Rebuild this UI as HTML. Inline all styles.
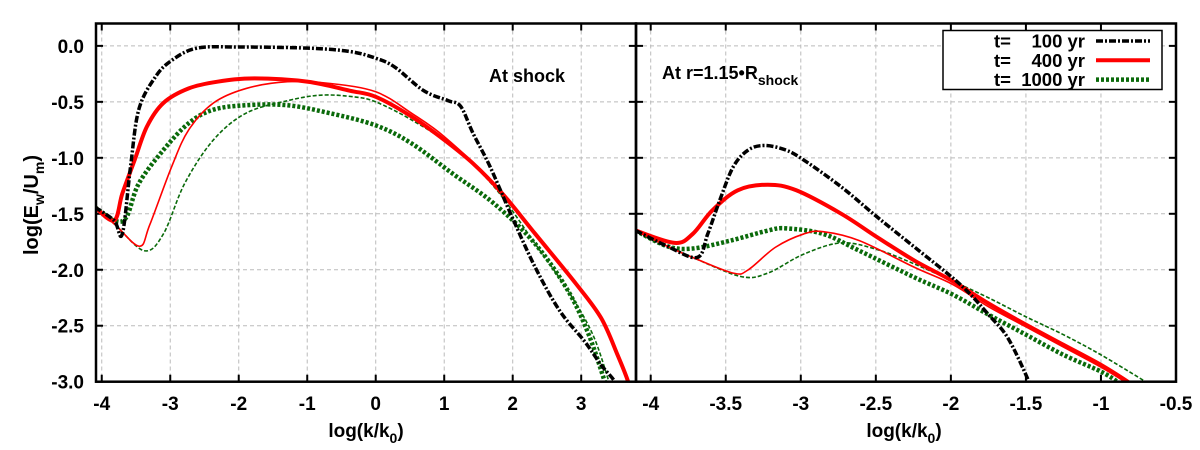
<!DOCTYPE html>
<html><head><meta charset="utf-8"><style>
body{margin:0;background:#fff;}
svg{display:block;font-family:"Liberation Sans",sans-serif;font-weight:bold;}
</style></head><body>
<svg id="chart" width="1200" height="450"></svg>
<script>
// ---- data ----
const leftXTicks=[-4,-3,-2,-1,0,1,2,3];
const rightXTicks=[-4,-3.5,-3,-2.5,-2,-1.5,-1,-0.5];
const yTicks=[0,-0.5,-1,-1.5,-2,-2.5,-3];
const yTickLabels=["0.0","-0.5","-1.0","-1.5","-2.0","-2.5","-3.0"];
// left panel (At shock)
const L_black_x=[-4.1,-3.82,-3.7,-3.58,-3.46,-3.22,-2.98,-2.61,-2.0,-0.99,-0.38,0,0.28,0.7,1.06,1.24,1.42,1.67,1.97,2.33,2.69,3.05,3.29,3.5,3.6];
const L_black_y=[-1.44,-1.56,-1.68,-1.08,-0.57,-0.28,-0.13,-0.02,-0.01,-0.02,-0.05,-0.11,-0.19,-0.40,-0.49,-0.54,-0.78,-1.08,-1.50,-1.98,-2.37,-2.64,-2.85,-3.01,-3.2];
const L_redT_x=[-4.1,-3.82,-3.7,-3.52,-3.34,-3.1,-2.73,-2.31,-1.77,-0.99,-0.38,0,0.52,1.0,1.42,1.85,2.33,2.93,3.29,3.53,3.69,3.75];
const L_redT_y=[-1.44,-1.56,-1.32,-1.02,-0.72,-0.51,-0.38,-0.32,-0.29,-0.32,-0.40,-0.455,-0.63,-0.84,-1.05,-1.32,-1.68,-2.13,-2.43,-2.76,-3.01,-3.2];
const L_redt_x=[-4.1,-3.8,-3.45,-3.3,-2.98,-2.73,-2.37,-1.89,-1.29,-0.68,0,0.52,1.0,1.73,2.33,2.93,3.29,3.53,3.69,3.75];
const L_redt_y=[-1.44,-1.6,-1.79,-1.6,-1.08,-0.75,-0.51,-0.38,-0.32,-0.335,-0.41,-0.60,-0.81,-1.23,-1.68,-2.13,-2.43,-2.76,-3.01,-3.2];
const L_grnT_x=[-4.1,-3.82,-3.64,-3.46,-3.1,-2.73,-2.37,-1.89,-1.29,-0.68,0,0.52,1.12,1.73,2.33,2.81,3.11,3.35,3.45];
const L_grnT_y=[-1.44,-1.56,-1.53,-1.23,-0.93,-0.69,-0.57,-0.53,-0.53,-0.60,-0.71,-0.87,-1.14,-1.41,-1.77,-2.19,-2.58,-3.01,-3.2];
const L_grnt_x=[-4.1,-3.8,-3.38,-3.1,-2.79,-2.37,-1.89,-1.29,-0.8,-0.32,0,0.52,1.12,1.73,2.33,2.81,3.17,3.41,3.5];
const L_grnt_y=[-1.44,-1.6,-1.83,-1.68,-1.23,-0.84,-0.60,-0.49,-0.44,-0.455,-0.5,-0.66,-0.90,-1.26,-1.77,-2.19,-2.58,-3.01,-3.2];
// right panel (At r=1.15 R_shock)
const R_black_x=[-4.1,-3.89,-3.69,-3.62,-3.54,-3.45,-3.35,-3.24,-3.1,-2.98,-2.73,-2.49,-2.24,-1.99,-1.87,-1.75,-1.62,-1.48,-1.43];
const R_black_y=[-1.65,-1.79,-1.89,-1.68,-1.38,-1.08,-0.93,-0.89,-0.93,-1.02,-1.26,-1.53,-1.80,-2.07,-2.22,-2.40,-2.61,-3.0,-3.2];
const R_redT_x=[-4.1,-3.84,-3.72,-3.59,-3.42,-3.22,-3.03,-2.73,-2.49,-2.24,-1.99,-1.75,-1.5,-1.25,-1.0,-0.81,-0.75];
const R_redT_y=[-1.65,-1.76,-1.68,-1.47,-1.29,-1.24,-1.29,-1.50,-1.71,-1.92,-2.10,-2.30,-2.49,-2.67,-2.85,-3.01,-3.07];
const R_redt_x=[-4.1,-3.89,-3.72,-3.45,-3.35,-3.17,-2.98,-2.85,-2.61,-2.24,-1.99,-1.75,-1.5,-1.25,-1.0,-0.83,-0.77];
const R_redt_y=[-1.65,-1.79,-1.89,-2.03,-2.0,-1.80,-1.68,-1.66,-1.74,-1.98,-2.13,-2.33,-2.51,-2.69,-2.87,-3.01,-3.07];
const R_grnT_x=[-4.1,-3.89,-3.72,-3.47,-3.22,-3.1,-2.85,-2.61,-2.24,-1.99,-1.75,-1.5,-1.25,-1.0,-0.88,-0.82];
const R_grnT_y=[-1.65,-1.79,-1.81,-1.74,-1.65,-1.63,-1.68,-1.83,-2.07,-2.22,-2.40,-2.58,-2.76,-2.91,-3.01,-3.07];
const R_grnt_x=[-4.1,-3.89,-3.72,-3.4,-3.22,-2.98,-2.73,-2.49,-2.24,-1.99,-1.75,-1.5,-1.25,-1.0,-0.69,-0.63];
const R_grnt_y=[-1.65,-1.79,-1.89,-2.06,-2.03,-1.86,-1.76,-1.82,-1.95,-2.10,-2.25,-2.42,-2.58,-2.76,-3.01,-3.06];
const legendLabels=["t=    100 yr","t=    400 yr","t=  1000 yr"];

// ---- layout ----
const NS="http://www.w3.org/2000/svg";
const svg=document.getElementById('chart');
const plotTop=23.5,plotBottom=381.7;
const yMin=-3,yMax=0.2;
function yS(v){return plotBottom-(v-yMin)/(yMax-yMin)*(plotBottom-plotTop);}
const panels=[
 {x0:96,x1:636,d0:-4.084,d1:3.8,ticks:leftXTicks,labels:leftXTicks.map(String),name:'left'},
 {x0:636,x1:1176,d0:-4.098,d1:-0.5,ticks:rightXTicks,labels:rightXTicks.map(String),name:'right'}
];
function mk(tag,attrs,parent){const e=document.createElementNS(NS,tag);for(const k in attrs)e.setAttribute(k,attrs[k]);(parent||svg).appendChild(e);return e;}
function smooth(pts){let d='M'+pts[0][0]+','+pts[0][1];for(let i=0;i<pts.length-1;i++){const p0=pts[i-1]||pts[i],p1=pts[i],p2=pts[i+1],p3=pts[i+2]||p2;const c1=[p1[0]+(p2[0]-p0[0])/6,p1[1]+(p2[1]-p0[1])/6],c2=[p2[0]-(p3[0]-p1[0])/6,p2[1]-(p3[1]-p1[1])/6];d+=' C'+c1[0]+','+c1[1]+' '+c2[0]+','+c2[1]+' '+p2[0]+','+p2[1];}return d;}
const styles={
 black:{stroke:'#000','stroke-width':3.5,'stroke-dasharray':'7,2,2,2'},
 redT:{stroke:'#f00','stroke-width':4},
 redt:{stroke:'#f00','stroke-width':1.6},
 grnT:{stroke:'#0a6a0a','stroke-width':4.5,'stroke-dasharray':'3,2'},
 grnt:{stroke:'#0a6a0a','stroke-width':1.6,'stroke-dasharray':'4,2'}
};
const series={left:[['grnt',L_grnt_x,L_grnt_y],['grnT',L_grnT_x,L_grnT_y],['redt',L_redt_x,L_redt_y],['redT',L_redT_x,L_redT_y],['black',L_black_x,L_black_y]],
 right:[['grnt',R_grnt_x,R_grnt_y],['grnT',R_grnT_x,R_grnT_y],['redt',R_redt_x,R_redt_y],['redT',R_redT_x,R_redT_y],['black',R_black_x,R_black_y]]};
const defs=mk('defs',{});
panels.forEach(p=>{
 const xS=v=>p.x0+(v-p.d0)/(p.d1-p.d0)*(p.x1-p.x0);
 const g=mk('g',{});
 
 
 const cp=mk('clipPath',{id:'clip-'+p.name},defs);
 mk('rect',{x:p.x0,y:plotTop,width:p.x1-p.x0,height:plotBottom-plotTop},cp);
 p.ticks.forEach((t,i)=>{const x=xS(t);
  const gl=mk('line',{x1:x,x2:x,y1:plotTop,y2:plotBottom,stroke:'#bbb','stroke-width':1,'stroke-dasharray':'4,3'},g);
  
  
  mk('line',{x1:x,x2:x,y1:plotBottom,y2:plotBottom-7,stroke:'#000','stroke-width':2},g);
  mk('line',{x1:x,x2:x,y1:plotTop,y2:plotTop+7,stroke:'#000','stroke-width':2},g);
  const tl=mk('text',{x:x,y:410,'text-anchor':'middle','font-size':19},g);tl.textContent=p.labels[i];
  
  
 });
 yTicks.forEach((t,i)=>{const y=yS(t);
  const gl=mk('line',{x1:p.x0,x2:p.x1,y1:y,y2:y,stroke:'#bbb','stroke-width':1,'stroke-dasharray':'4,3'},g);
  
  
  mk('line',{x1:p.x0,x2:p.x0+7,y1:y,y2:y,stroke:'#000','stroke-width':2},g);
  mk('line',{x1:p.x1,x2:p.x1-7,y1:y,y2:y,stroke:'#000','stroke-width':2},g);
  if(p.name==='left'){const tl=mk('text',{x:84,y:y+7,'text-anchor':'end','font-size':19},g);tl.textContent=yTickLabels[i];
   
   }
 });
 const sg=mk('g',{'clip-path':'url(#clip-'+p.name+')'},g);
 series[p.name].forEach(s=>{
  const pts=s[1].map((v,i)=>[xS(v),yS(s[2][i])]);
  const a=Object.assign({d:smooth(pts),fill:'none','stroke-linejoin':'round'},styles[s[0]]);
  const path=mk('path',a,sg);
  
  
 });
 const fr=mk('rect',{x:p.x0,y:plotTop,width:p.x1-p.x0,height:plotBottom-plotTop,fill:'none',stroke:'#000','stroke-width':2.5},g);
 
 
 const xt=mk('text',{x:(p.name==='left'?366:904),y:437,'text-anchor':'middle','font-size':19},g);
 xt.innerHTML='log(k/k<tspan font-size="14" dy="6">0</tspan><tspan dy="-6">)</tspan>';
 
 
});
const yt=mk('text',{transform:'translate(38,205) rotate(-90)','text-anchor':'middle','font-size':20});
yt.innerHTML='log(E<tspan font-size="14" dy="6">w</tspan><tspan dy="-6">/U</tspan><tspan font-size="14" dy="6">m</tspan><tspan dy="-6">)</tspan>';


const a1=mk('text',{x:489,y:82,'font-size':18});a1.textContent='At shock';


const a2=mk('text',{x:662,y:79,'font-size':18});a2.innerHTML='At r=1.15•R<tspan font-size="14" dy="6">shock</tspan>';


const lg=mk('g',{});


mk('rect',{x:943,y:30.5,width:219,height:59,fill:'#fff',stroke:'#000','stroke-width':1.5},lg);
['black','redT','grnT'].forEach((k,i)=>{const y=41+i*19.3;
 const t=mk('text',{x:1085,y:y+6.5,'text-anchor':'end','font-size':18.5,style:'white-space:pre'},lg);t.textContent=legendLabels[i];
 
 
 const l=mk('line',Object.assign({x1:1096,x2:1150,y1:y,y2:y},styles[k]),lg);
 
 
});
</script>
</body></html>
